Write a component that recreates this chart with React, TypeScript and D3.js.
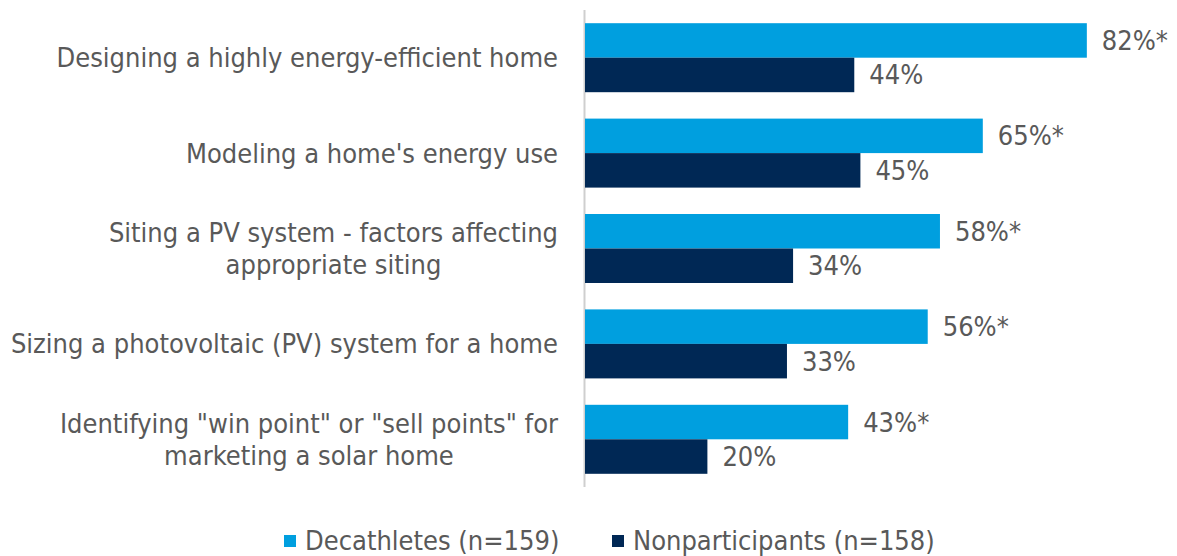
import React from "react";
import * as d3 from "d3";

const categories: string[][] = [
  ["Designing a highly energy-efficient home"],
  ["Modeling a home's energy use"],
  ["Siting a PV system - factors affecting", "appropriate siting"],
  ["Sizing a photovoltaic (PV) system for a home"],
  ["Identifying \"win point\" or \"sell points\" for", "marketing a solar home"],
];
const decathletes = [82, 65, 58, 56, 43];
const nonparticipants = [44, 45, 34, 33, 20];
const decathleteLabels = ["82%*", "65%*", "58%*", "56%*", "43%*"];
const nonparticipantLabels = ["44%", "45%", "34%", "33%", "20%"];
const seriesNames = ["Decathletes (n=159)", "Nonparticipants (n=158)"];
const colors = ["#009FDF", "#002855"];

const W = 1177;
const H = 556;
const FONT = "'DejaVu Sans Condensed', 'Liberation Sans Narrow', 'Roboto', sans-serif";
const TEXT = "#595959";
const FS = 27;

let ctx: CanvasRenderingContext2D | null = null;
function measure(s: string): number {
  if (!ctx) {
    const c = document.createElement("canvas");
    ctx = c.getContext("2d");
  }
  if (!ctx) return s.length * 12;
  ctx.font = `${FS}px ${FONT}`;
  return ctx.measureText(s).width;
}

export default function App() {
  const y = d3
    .scaleBand<number>()
    .domain(d3.range(categories.length))
    .range([10, 487])
    .paddingInner(0)
    .paddingOuter(0);
  const x = d3.scaleLinear().domain([0, 100]).range([585, 1197]);
  const barH = 34.5;
  const labelRight = 558;

  return (
    <svg
      width={W}
      height={H}
      style={{ position: "absolute", left: 0, top: 0, background: "#fff" }}
      fontFamily={FONT}
    >
      <line x1={584.5} x2={584.5} y1={10} y2={487} stroke="#cfcfcf" strokeWidth={2} />
      {categories.map((lines, i) => {
        const c = (y(i) as number) + y.bandwidth() / 2;
        const lh = 32;
        const maxW = lines.length > 1 ? d3.max(lines, (l) => measure(l)) || 0 : 0;
        return (
          <g key={i}>
            <rect x={x(0)} y={c - barH} width={x(decathletes[i]) - x(0)} height={barH} fill={colors[0]} />
            <rect x={x(0)} y={c} width={x(nonparticipants[i]) - x(0)} height={barH} fill={colors[1]} />
            <text x={x(decathletes[i]) + 15} y={c - barH / 2} dy="0.35em" fontSize={FS} fill={TEXT}>
              {decathleteLabels[i]}
            </text>
            <text x={x(nonparticipants[i]) + 15} y={c + barH / 2} dy="0.35em" fontSize={FS} fill={TEXT}>
              {nonparticipantLabels[i]}
            </text>
            {lines.map((ln, j) => (
              <text
                key={j}
                x={lines.length > 1 ? labelRight - maxW / 2 : labelRight}
                y={c + (j - (lines.length - 1) / 2) * lh}
                dy="0.35em"
                textAnchor={lines.length > 1 ? "middle" : "end"}
                fontSize={FS}
                fill={TEXT}
              >
                {ln}
              </text>
            ))}
          </g>
        );
      })}
      {seriesNames.map((s, i) => {
        const lx = [284, 612][i];
        return (
          <g key={s}>
            <rect x={lx} y={535} width={12} height={12} fill={colors[i]} />
            <text x={lx + 21} y={541} dy="0.35em" fontSize={FS} fill={TEXT}>
              {s}
            </text>
          </g>
        );
      })}
    </svg>
  );
}
